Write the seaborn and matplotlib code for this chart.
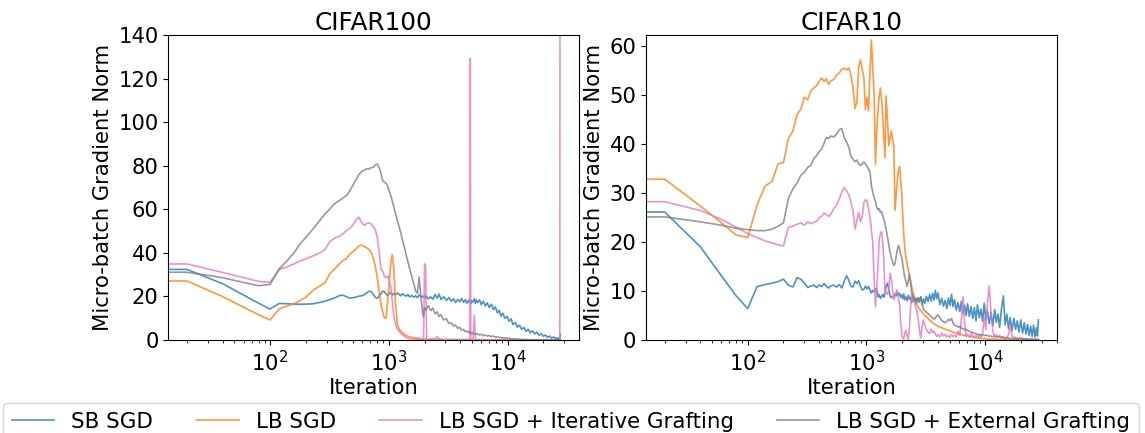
import matplotlib
matplotlib.use("Agg")
import matplotlib.pyplot as plt
from matplotlib.lines import Line2D
import pandas as pd
import seaborn as sns

# Run names and colours (legend order)
run_names = ["SB SGD", "LB SGD", "LB SGD + Iterative Grafting", "LB SGD + External Grafting"]
run_colors = ["tab:blue", "tab:orange", "tab:pink", "tab:gray"]

# ---------------- CIFAR100 ----------------
c100_iters = [
    0, 20, 40, 60, 80, 100, 120, 140, 160, 180,
    200, 230, 260, 290, 320, 350, 380, 410, 440, 470,
    500, 530, 560, 590, 620, 650, 680, 710, 740, 770,
    800, 830, 860, 890, 920, 950, 980, 1010, 1040, 1070,
    1100, 1140, 1180, 1220, 1260, 1300, 1350, 1400, 1450, 1500,
    1560, 1620, 1680, 1740, 1800, 1860, 1920, 1960, 2000, 2040,
    2080, 2150, 2250, 2350, 2450, 2550, 2650, 2750, 2900, 3050,
    3200, 3350, 3500, 3650, 3800, 3950, 4100, 4250, 4400, 4550,
    4700, 4800, 4850, 4900, 4950, 5100, 5250, 5350, 5450, 5600,
    5800, 6000, 6250, 6500, 6750, 7000, 7300, 7600, 7900, 8200,
    8500, 8800, 9100, 9500, 9900, 10300, 10700, 11100, 11600, 12100,
    12600, 13100, 13700, 14300, 14900, 15500, 16200, 16900, 17600, 18400,
    19200, 20000, 20800, 21700, 22600, 23500, 24400, 25300, 26200, 27000,
    27500, 27800,
]
c100_sb = [
    32.4, 32.4, 25.8, 20.6, 16.9, 14.2, 16.8, 16.6, 16.5, 16.4,
    16.5, 16.6, 17.2, 17.8, 18.6, 19.3, 20.3, 20.6, 19.9, 19.2,
    19.4, 19.7, 20.1, 20.3, 20.8, 21.6, 22.4, 22.1, 21.0, 19.6,
    19.1, 20.2, 21.3, 22.4, 22.1, 21.0, 20.4, 21.3, 21.8, 20.6,
    21.4, 20.8, 21.6, 21.0, 20.3, 21.2, 20.6, 20.1, 20.9, 19.8,
    20.5, 19.6, 20.3, 19.4, 20.7, 19.7, 20.2, 19.5, 20.4, 19.3,
    20.1, 18.9, 19.8, 18.7, 20.9, 19.2, 21.1, 18.6, 19.9, 18.2,
    19.4, 17.8, 18.9, 17.2, 18.6, 17.6, 19.1, 17.3, 18.5, 16.9,
    18.3, 17.1, 18.6, 16.8, 18.1, 17.4, 19.0, 16.7, 18.4, 17.2,
    18.4, 16.2, 17.8, 15.6, 17.1, 14.9, 16.4, 13.9, 15.2, 12.4,
    13.6, 11.0, 12.3, 9.9, 10.8, 8.6, 9.7, 7.1, 8.0, 5.9,
    6.8, 4.9, 5.7, 3.9, 4.9, 3.3, 4.2, 2.8, 3.6, 2.2,
    2.9, 1.7, 2.3, 1.2, 1.8, 0.9, 1.4, 0.6, 1.0, 0.4,
    1.0, 2.6,
]
c100_lb = [
    27.1, 27.1, 19.9, 15.0, 11.6, 9.2, 14.4, 15.6, 16.7, 18.2,
    19.6, 22.8, 24.6, 26.3, 30.5, 32.6, 34.6, 36.5, 37.3, 39.4,
    40.6, 41.8, 43.2, 43.6, 42.9, 42.3, 41.6, 40.3, 37.6, 33.8,
    28.5, 22.1, 16.4, 12.6, 10.2, 10.0, 18.5, 27.4, 35.6, 39.2,
    33.5, 16.0, 7.0, 5.2, 4.1, 3.5, 2.6, 2.0, 1.7, 1.4,
    1.2, 1.0, 0.9, 0.8, 0.7, 0.6, 0.5, 0.5, 0.4, 0.4,
    0.4, 0.3, 0.3, 0.3, 0.3, 0.2, 0.2, 0.2, 0.2, 0.2,
    0.2, 0.2, 0.1, 0.1, 0.1, 0.1, 0.1, 0.1, 0.1, 0.1,
    0.1, 0.1, 0.1, 0.1, 0.1, 0.1, 0.1, 0.1, 0.1, 0.1,
    0.1, 0.1, 0.1, 0.1, 0.0, 0.0, 0.0, 0.0, 0.0, 0.0,
    0.0, 0.0, 0.0, 0.0, 0.0, 0.0, 0.0, 0.0, 0.0, 0.0,
    0.0, 0.0, 0.0, 0.0, 0.0, 0.0, 0.0, 0.0, 0.0, 0.0,
    0.0, 0.0, 0.0, 0.0, 0.0, 0.0, 0.0, 0.0, 0.0, 0.0,
    0.0, 0.0,
]
c100_iter_graft = [
    34.9, 34.9, 31.0, 28.6, 26.9, 26.5, 32.4, 33.6, 35.0, 36.3,
    37.2, 38.6, 39.8, 41.5, 45.2, 46.8, 47.5, 48.6, 50.2, 51.3,
    52.8, 55.1, 56.4, 53.9, 52.7, 53.4, 53.8, 53.3, 52.1, 50.6,
    47.0, 40.0, 32.5, 31.6, 29.0, 28.8, 29.5, 27.1, 24.3, 17.8,
    11.2, 7.4, 5.1, 4.0, 3.1, 2.4, 1.8, 1.2, 0.8, 0.6,
    0.5, 0.4, 0.4, 0.3, 0.3, 0.3, 0.3, 0.3, 35.0, 33.8,
    0.4, 0.3, 0.3, 0.3, 0.5, 1.6, 0.6, 0.3, 0.2, 0.2,
    0.2, 0.2, 0.2, 0.2, 0.2, 0.2, 0.2, 0.2, 0.2, 0.2,
    0.2, 0.2, 129.3, 0.3, 0.2, 0.2, 11.5, 0.2, 0.2, 0.2,
    0.1, 0.1, 0.1, 0.1, 0.1, 0.1, 0.1, 0.1, 0.1, 0.1,
    0.1, 0.1, 0.1, 0.1, 0.1, 0.1, 0.1, 0.1, 0.1, 0.1,
    0.1, 0.1, 0.1, 0.1, 0.1, 0.1, 0.1, 0.1, 0.1, 0.1,
    0.1, 0.1, 0.1, 0.1, 0.1, 0.1, 0.1, 0.1, 0.1, 0.1,
    0.1, 400.0,
]
c100_ext_graft = [
    31.1, 31.1, 28.6, 26.4, 24.9, 25.5, 32.8, 36.5, 40.2, 44.3,
    47.0, 51.0, 54.6, 57.8, 60.2, 62.6, 63.8, 65.2, 66.3, 68.5,
    71.2, 73.6, 75.9, 77.3, 77.9, 78.6, 78.4, 79.1, 79.3, 80.4,
    80.7, 79.2, 76.4, 73.0, 72.4, 71.8, 70.6, 68.3, 66.1, 63.8,
    61.2, 57.9, 55.0, 52.1, 49.3, 46.2, 42.8, 39.0, 35.7, 32.6,
    29.1, 25.8, 22.6, 21.4, 28.9, 20.2, 13.0, 10.8, 14.9, 13.7,
    14.2, 15.8, 13.4, 14.6, 12.0, 12.9, 10.8, 11.6, 9.2, 9.8,
    7.6, 7.9, 6.4, 6.9, 5.3, 5.8, 4.5, 4.9, 3.8, 4.2,
    3.4, 3.8, 3.1, 3.5, 2.9, 3.3, 2.7, 3.0, 2.5, 2.8,
    2.3, 2.6, 2.0, 2.3, 1.8, 2.0, 1.6, 1.8, 1.3, 1.5,
    1.1, 1.2, 0.9, 1.0, 0.7, 0.8, 0.6, 0.6, 0.4, 0.4,
    0.3, 0.3, 0.2, 0.2, 0.2, 0.1, 0.1, 0.1, 0.1, 0.1,
    0.1, 0.1, 0.1, 0.1, 0.0, 0.0, 0.0, 0.0, 0.0, 0.0,
    0.0, 0.0,
]

# ---------------- CIFAR10 ----------------
c10_iters = [
    0, 20, 40, 60, 80, 100, 120, 140, 160, 180,
    200, 220, 240, 260, 280, 300, 320, 340, 360, 380,
    400, 420, 440, 460, 480, 500, 530, 560, 590, 620,
    650, 680, 710, 740, 770, 800, 830, 860, 890, 920,
    950, 980, 1010, 1040, 1070, 1100, 1130, 1160, 1190, 1220,
    1250, 1280, 1310, 1340, 1370, 1400, 1430, 1460, 1500, 1540,
    1580, 1620, 1660, 1700, 1740, 1780, 1820, 1860, 1900, 1940,
    1980, 2020, 2060, 2100, 2150, 2200, 2250, 2300, 2350, 2400,
    2460, 2520, 2580, 2640, 2700, 2780, 2860, 2940, 3020, 3100,
    3200, 3300, 3400, 3500, 3600, 3700, 3800, 3900, 4000, 4150,
    4300, 4450, 4600, 4750, 4900, 5050, 5200, 5350, 5500, 5700,
    5900, 6100, 6300, 6500, 6700, 6900, 7100, 7350, 7600, 7850,
    8100, 8350, 8600, 8900, 9200, 9500, 9800, 10100, 10400, 10800,
    11200, 11600, 12000, 12400, 12800, 13200, 13700, 14200, 14700, 15200,
    15700, 16200, 16800, 17400, 18000, 18600, 19200, 19900, 20600, 21300,
    22000, 22700, 23400, 24100, 24800, 25500, 26200, 26900, 27500, 28000,
]
c10_sb = [
    26.1, 26.1, 19.0, 13.1, 9.0, 6.4, 10.9, 11.3, 11.6, 11.9,
    12.4, 11.2, 10.8, 12.7, 12.4, 11.6, 10.7, 11.0, 11.2, 10.7,
    11.2, 10.9, 11.5, 10.9, 10.6, 11.0, 11.2, 10.8, 11.3, 10.6,
    12.0, 13.1, 12.2, 11.0, 10.8, 12.0, 11.5, 12.1, 10.9, 10.2,
    10.3, 11.0, 10.4, 10.9, 10.2, 9.6, 10.1, 9.8, 10.5, 10.4,
    8.8, 9.2, 8.5, 8.9, 9.3, 8.7, 9.6, 10.8, 11.6, 10.4,
    9.0, 8.6, 8.9, 8.8, 9.4, 9.0, 9.7, 9.1, 9.5, 8.7,
    9.2, 8.4, 9.4, 8.2, 8.8, 8.0, 9.1, 8.3, 8.7, 7.6,
    8.9, 7.8, 8.5, 7.4, 8.6, 7.7, 8.8, 7.2, 8.4, 7.5,
    8.9, 7.8, 9.3, 7.9, 9.5, 8.1, 10.1, 8.4, 9.6, 7.2,
    8.5, 6.9, 8.1, 6.4, 8.6, 7.0, 9.3, 6.8, 8.2, 6.1,
    7.6, 5.8, 7.9, 5.4, 7.1, 5.0, 7.4, 4.8, 6.8, 4.4,
    6.6, 3.9, 7.2, 4.5, 6.3, 3.8, 7.5, 4.2, 6.0, 3.3,
    5.6, 2.9, 6.2, 3.6, 5.3, 2.6, 6.4, 9.0, 3.1, 5.2,
    2.3, 4.6, 1.9, 4.4, 2.2, 3.9, 1.6, 4.1, 1.4, 3.5,
    1.2, 3.2, 0.9, 2.8, 0.7, 3.0, 0.6, 2.5, 0.8, 4.1,
]
c10_lb = [
    32.8, 32.8, 27.3, 23.9, 21.4, 20.9, 27.6, 31.4, 32.3, 35.9,
    36.2, 41.1, 42.6, 45.9, 47.1, 49.5, 49.0, 50.8, 51.4, 51.8,
    52.8, 53.4, 52.7, 53.3, 52.1, 52.8, 53.1, 54.0, 54.5, 55.2,
    55.4, 55.1, 55.5, 54.0, 51.5, 47.2, 48.5, 55.8, 57.1, 55.2,
    53.6, 47.0, 49.5, 46.8, 54.8, 61.2, 55.0, 50.2, 35.8, 42.5,
    46.9, 49.8, 51.4, 49.0, 45.5, 41.2, 37.2, 49.8, 45.1, 39.6,
    41.3, 42.6, 40.9, 39.3, 26.5, 29.8, 32.5, 34.6, 35.4, 32.6,
    29.9, 25.6, 21.4, 18.8, 16.8, 15.6, 14.2, 13.0, 12.1, 11.0,
    9.6, 8.9, 8.0, 7.3, 6.8, 6.4, 6.0, 5.6, 5.3, 5.0,
    4.7, 4.4, 4.0, 3.8, 3.5, 3.3, 3.1, 3.0, 2.8, 2.6,
    2.5, 2.3, 2.2, 2.1, 2.0, 1.8, 1.7, 1.6, 1.5, 1.4,
    1.3, 1.2, 1.1, 1.0, 0.9, 0.9, 0.8, 0.7, 0.7, 0.6,
    0.5, 0.5, 0.4, 0.4, 0.3, 0.3, 0.3, 0.2, 0.2, 0.2,
    0.2, 0.2, 0.2, 0.1, 0.1, 0.1, 0.1, 0.1, 0.1, 0.1,
    0.1, 0.1, 0.1, 0.1, 0.1, 0.1, 0.1, 0.1, 0.1, 0.1,
    0.1, 0.1, 0.1, 0.1, 0.1, 0.1, 0.1, 0.1, 0.1, 0.1,
]
c10_iter_graft = [
    28.2, 28.2, 26.4, 24.6, 23.0, 21.7, 20.9, 20.2, 19.8, 19.4,
    19.2, 23.0, 23.2, 23.6, 23.9, 23.4, 24.1, 23.7, 24.0, 24.2,
    25.0, 25.2, 25.9, 25.6, 25.2, 25.6, 26.8, 27.5, 28.8, 30.2,
    31.1, 30.4, 29.6, 28.1, 26.4, 22.6, 24.3, 26.0, 24.1, 25.2,
    28.0, 28.6, 28.4, 26.8, 25.1, 22.5, 19.8, 12.0, 6.8, 10.5,
    15.0, 20.6, 21.6, 22.1, 19.8, 16.4, 9.5, 9.7, 9.3, 10.4,
    13.6, 12.4, 10.1, 8.2, 9.0, 9.8, 10.2, 8.4, 7.3, 3.6,
    1.4, 0.3, 0.2, 1.4, 2.0, 0.8, 0.2, 2.6, 6.8, 9.6,
    8.3, 8.0, 6.9, 6.2, 4.9, 2.4, 0.4, 2.7, 4.1, 3.0,
    2.1, 1.6, 1.3, 2.2, 1.5, 1.8, 1.2, 0.7, 1.1, 0.6,
    1.4, 0.8, 1.2, 0.6, 0.9, 0.5, 1.1, 0.7, 1.0, 0.6,
    1.8, 0.9, 4.2, 8.8, 3.3, 0.8, 1.2, 0.6, 1.3, 0.9,
    0.6, 1.0, 0.7, 0.9, 0.5, 1.4, 4.6, 2.1, 7.3, 11.0,
    5.2, 1.6, 0.8, 1.1, 0.6, 0.9, 0.5, 0.7, 0.4, 0.6,
    1.1, 3.0, 0.8, 0.4, 0.6, 0.3, 0.5, 0.3, 0.4, 0.2,
    0.3, 0.2, 0.3, 0.2, 0.2, 0.1, 0.2, 0.1, 0.1, 0.1,
]
c10_ext_graft = [
    25.1, 25.1, 24.1, 23.4, 22.8, 22.5, 22.3, 22.3, 22.6, 23.2,
    23.9, 28.9, 30.8, 32.0, 33.6, 34.2, 35.2, 35.6, 37.0, 37.6,
    38.4, 39.0, 40.2, 41.3, 41.1, 41.6, 41.4, 42.0, 42.9, 43.1,
    41.2, 40.4, 39.3, 37.4, 36.9, 36.4, 36.7, 35.9, 35.6, 35.9,
    36.3, 36.0, 35.4, 34.9, 34.2, 31.5, 30.1, 29.0, 28.2, 27.1,
    26.5, 26.8, 26.0, 26.2, 25.3, 24.6, 23.8, 22.6, 21.2, 19.4,
    17.8, 16.7, 15.9, 15.2, 15.6, 17.2, 18.5, 19.3, 18.6, 17.4,
    16.9, 15.4, 14.0, 12.8, 11.8, 10.9, 12.2, 13.4, 11.6, 9.8,
    9.0, 8.4, 8.0, 8.3, 8.6, 8.1, 8.8, 7.6, 6.2, 6.0,
    5.6, 5.4, 5.1, 4.8, 4.5, 4.2, 4.5, 4.9, 5.1, 4.6,
    4.0, 3.7, 3.5, 3.8, 4.2, 4.0, 4.4, 3.5, 3.0, 2.9,
    2.6, 2.8, 2.4, 2.3, 2.1, 2.2, 1.9, 1.8, 1.6, 1.5,
    1.4, 1.3, 1.2, 1.1, 1.0, 1.1, 0.9, 1.0, 0.9, 0.8,
    0.8, 0.7, 0.7, 0.6, 0.6, 0.7, 0.5, 0.5, 0.4, 0.4,
    0.4, 0.3, 0.3, 0.3, 0.3, 0.2, 0.2, 0.2, 0.2, 0.2,
    0.2, 0.1, 0.1, 0.1, 0.1, 0.1, 0.1, 0.1, 0.1, 0.1,
]


def long_table(iters, runs):
    frames = []
    for name, vals in zip(run_names, runs):
        frames.append(pd.DataFrame({"Iteration": iters, "norm": vals, "run": name}))
    return pd.concat(frames, ignore_index=True)


c100_df = long_table(c100_iters, [c100_sb, c100_lb, c100_iter_graft, c100_ext_graft])
c10_df = long_table(c10_iters, [c10_sb, c10_lb, c10_iter_graft, c10_ext_graft])

plt.rcParams["font.size"] = 15.2
palette = dict(zip(run_names, run_colors))
line_width = 1.2
line_alpha = 0.8

fig = plt.figure(figsize=(11.45, 4.33), dpi=100)
ax_left = fig.add_axes([0.147, 0.2148, 0.3587, 0.7044])
ax_right = fig.add_axes([0.5642, 0.2148, 0.359, 0.7044])

for ax, df, title, ytop in [(ax_left, c100_df, "CIFAR100", 140), (ax_right, c10_df, "CIFAR10", 62.2)]:
    sns.lineplot(data=df, x="Iteration", y="norm", hue="run", hue_order=run_names,
                 palette=palette, estimator=None, legend=False,
                 linewidth=line_width, alpha=line_alpha, ax=ax)
    ax.set_xscale("log")
    ax.set_ylim(0, ytop)
    ax.set_title(title, fontsize=17.8, pad=3)
    ax.set_xlabel("Iteration", labelpad=2)
    ax.set_ylabel("Micro-batch Gradient Norm")

# Legend along the bottom
handles = [Line2D([], [], color=c, lw=line_width, alpha=line_alpha) for c in run_colors]
fig.legend(handles, run_names, loc="upper left", bbox_to_anchor=(3 / 1145, 1 - 403 / 433),
           ncol=4, borderaxespad=0, fontsize=15.4)

fig.savefig("out.png", dpi=100)
